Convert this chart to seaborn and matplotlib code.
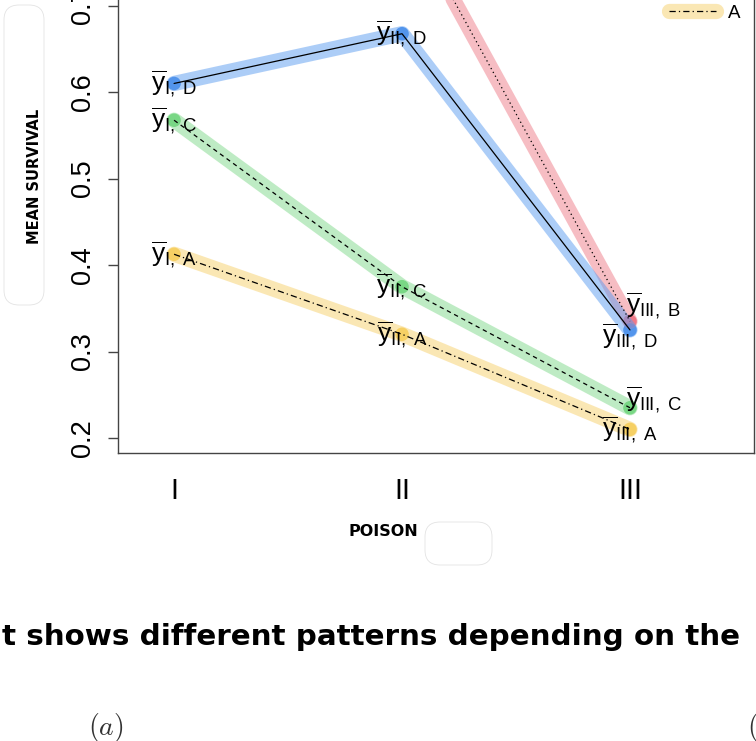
import numpy as np
import pandas as pd
import matplotlib
matplotlib.use("Agg")
import matplotlib.pyplot as plt
from matplotlib.lines import Line2D
from matplotlib.legend_handler import HandlerTuple
from matplotlib.patches import FancyBboxPatch
import seaborn as sns

# ---------------- data ----------------
poisons = ["I", "II", "III"]
treatments = ["B", "D", "C", "A"]          # legend order (by value at poison III)
mean_A = [0.4125, 0.3200, 0.2100]
mean_B = [0.8800, 0.8150, 0.3350]
mean_C = [0.5675, 0.3750, 0.2350]
mean_D = [0.6100, 0.6675, 0.3250]
y_ticks = [0.2, 0.3, 0.4, 0.5, 0.6, 0.7]

rows = []
for t, vals in zip(["A", "B", "C", "D"], [mean_A, mean_B, mean_C, mean_D]):
    for p, v in zip(poisons, vals):
        rows.append({"poison": p, "treat": t, "mean": v})
df = pd.DataFrame(rows)

# ---------------- style ----------------
sns.set_style("white")
plt.rcParams["font.family"] = ["Liberation Sans", "DejaVu Sans"]
plt.rcParams["mathtext.fontset"] = "custom"
plt.rcParams["mathtext.rm"] = "Liberation Sans"
plt.rcParams["mathtext.it"] = "Liberation Sans"
plt.rcParams["text.color"] = "black"
plt.rcParams["xtick.color"] = "black"
plt.rcParams["ytick.color"] = "black"

band = {"A": "#f7d06a", "B": "#ef7c88", "C": "#7fd98a", "D": "#5b9cf0"}
dot = {"A": "#f5c842", "B": "#ee5f73", "C": "#5ccf6a", "D": "#2b7be5"}
dash = {"A": (5, 2.5, 1, 2.5), "B": (1, 2.5), "C": (3.5, 3), "D": ""}

fig = plt.figure(figsize=(7.56, 7.41), dpi=100)
ax = fig.add_axes([118 / 756, 1 - 453 / 741, (754 - 118) / 756, 453 / 741])

# highlighter bands
sns.lineplot(data=df, x="poison", y="mean", hue="treat", palette=band,
             linewidth=11, alpha=0.5, legend=False, sort=False, ax=ax,
             solid_capstyle="round")
# thin black lines
sns.lineplot(data=df, x="poison", y="mean", style="treat", dashes=dash,
             color="black", linewidth=0.9, legend=False, sort=False, ax=ax)
# dots
sns.scatterplot(data=df, x="poison", y="mean", hue="treat", palette=dot,
                s=95, alpha=0.85, edgecolor="none", legend=False, ax=ax)

# point labels
offsets = {("III", "B"): (17, 11.5), ("III", "D"): (0, -5),
           ("III", "C"): (17, 6)}
for _, r in df.iterrows():
    dx, dy = offsets.get((r["poison"], r["treat"]), (0, 0))
    lab = r"$\overline{\mathrm{y}}_{\mathrm{%s,\ %s}}$" % (r["poison"], r["treat"])
    ax.annotate(lab, (r["poison"], r["mean"]), xytext=(dx, dy),
                textcoords="offset points", ha="center", va="center",
                fontsize=19, color="black", annotation_clip=True, clip_on=True)

ax.set_xlim(-0.246, 2.544)
ax.set_ylim(0.1827, 0.7065)
ax.set_yticks(y_ticks)
ax.set_yticklabels([f"{v:.1f}" for v in y_ticks], rotation=90, va="center")
ax.tick_params(axis="y", left=True, length=7, width=1, color="#444444",
               labelsize=19.5, pad=9)
ax.tick_params(axis="x", bottom=False, length=0, labelsize=21, pad=17)
ax.set_xlabel("")
ax.set_ylabel("")
for s in ["left", "bottom", "right"]:
    ax.spines[s].set_color("#444444")
    ax.spines[s].set_linewidth(1.0)
ax.spines["top"].set_visible(False)

# legend (only the last entry falls inside the image)
handles = []
for t in treatments:
    hb = Line2D([], [], color=band[t], lw=11, alpha=0.5, solid_capstyle="round")
    hl = Line2D([], [], color="black", lw=0.9,
                linestyle="-" if not dash[t] else "--")
    if dash[t]:
        hl.set_dashes(dash[t])
    handles.append((hb, hl))
fig.legend(handles, treatments, handler_map={tuple: HandlerTuple(ndivide=1)},
           loc="lower left", bbox_to_anchor=(660 / 756, 1 - 31 / 741),
           frameon=False, fontsize=13.5, handlelength=2.5, handletextpad=0.6,
           borderpad=0, labelspacing=0.4, title="treat", title_fontsize=13.5)

# hand-written style labels
fig.text(35 / 756, 1 - 176 / 741, "MEAN SURVIVAL", rotation=90, ha="center",
         va="center", fontsize=10.5, fontweight="bold", family="DejaVu Sans")
fig.text(383 / 756, 1 - 531 / 741, "POISON", ha="center", va="center",
         fontsize=11.5, fontweight="bold", family="DejaVu Sans")

# faint erasure outlines
fig.patches.append(FancyBboxPatch((4 / 756, 1 - 305 / 741), 40 / 756, 300 / 741,
                                  boxstyle="round,pad=0,rounding_size=0.02",
                                  transform=fig.transFigure, fill=False,
                                  ec="#e3e3e3", lw=0.6))
fig.patches.append(FancyBboxPatch((425 / 756, 1 - 565 / 741), 67 / 756, 43 / 741,
                                  boxstyle="round,pad=0,rounding_size=0.02",
                                  transform=fig.transFigure, fill=False,
                                  ec="#e3e3e3", lw=0.6))

fig.text(2 / 756, 1 - 645 / 741, "t shows different patterns depending on the",
         ha="left", va="baseline", fontsize=21.2, fontweight="bold",
         family="DejaVu Sans", color="black")
fig.text(88 / 756, 1 - 735 / 741, r"$(a)$", math_fontfamily="cm", fontsize=20,
         ha="left", va="baseline", color="#333333")
fig.text(747 / 756, 1 - 735 / 741, r"$(b)$", math_fontfamily="cm", fontsize=20,
         ha="left", va="baseline", color="#333333")

fig.savefig("out.png", dpi=100)
